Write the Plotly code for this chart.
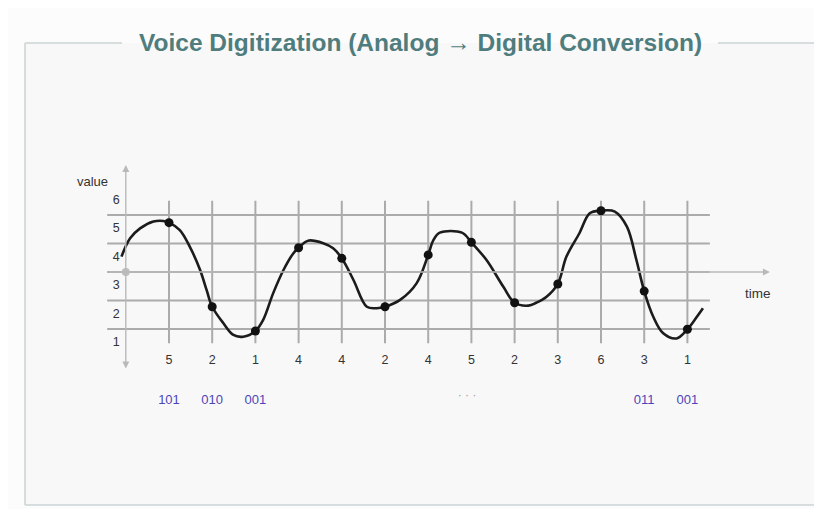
import plotly.graph_objects as go

# ---- data ----
curve_x = [-0.1, 0.1, 0.33, 0.64, 0.87, 1.0, 1.25, 1.48, 1.72, 1.87, 2.0, 2.26, 2.49, 2.72,
           3.0, 3.18, 3.41, 3.65, 3.88, 4.0, 4.22, 4.57, 4.8, 5.0, 5.27, 5.58, 5.81, 6.0,
           6.35, 6.73, 7.0, 7.12, 7.27, 7.78, 8.0, 8.35, 8.74, 9.0, 9.32, 9.5, 9.74, 10.0,
           10.2, 10.5, 10.74, 11.0, 11.32, 11.6, 11.82, 12.0, 12.21, 12.44, 12.75, 13.0,
           13.22, 13.36]
curve_v = [4.04, 4.68, 5.03, 5.27, 5.29, 5.23, 4.97, 4.39, 3.57, 2.87, 2.28, 1.70, 1.29, 1.23,
           1.43, 1.82, 2.75, 3.57, 4.16, 4.35, 4.60, 4.51, 4.33, 3.98, 3.22, 2.28, 2.23, 2.28,
           2.52, 3.10, 4.10, 4.62, 4.88, 4.88, 4.54, 3.92, 2.98, 2.42, 2.32, 2.42, 2.63, 3.08,
           4.04, 4.86, 5.56, 5.65, 5.62, 5.09, 3.92, 2.83, 1.93, 1.35, 1.17, 1.49,
           1.93, 2.23]

sample_x = [1, 2, 3, 4, 5, 6, 7, 8, 9, 10, 11, 12, 13]
sample_v = [5.23, 2.28, 1.43, 4.35, 3.98, 2.28, 4.10, 4.54, 2.42, 3.08, 5.65, 2.83, 1.49]
sample_labels = ["5", "2", "1", "4", "4", "2", "4", "5", "2", "3", "6", "3", "1"]

code_x = [1, 2, 3, 12, 13]
code_labels = ["101", "010", "001", "011", "001"]
ellipsis_x = 7.9

y_tick_vals = [1, 2, 3, 4, 5, 6]
y_tick_text = ["1", "2", "3", "4", "5", "6"]
grid_levels = [1.5, 2.5, 3.5, 4.5, 5.5]
time_axis_level = 3.5

title_text = "Voice Digitization (Analog \u2192 Digital Conversion)"

# ---- figure (page has an 8px body margin, so the figure is 8px smaller) ----
OFF = 8
W, H = 822 - OFF, 509 - OFF
FONT = "Liberation Sans, Arial, sans-serif"
GRID = "#ababab"
AXIS = "#b9b9b9"


def px(xp):
    return (xp - OFF) / W


def py(yp):
    return 1 - (yp - OFF) / H


fig = go.Figure()

# frame background and lines (paper coords)
fl, fr, ft, fb = px(25), px(817), py(43), py(505)
gap_l, gap_r = px(122), px(718)
fig.add_shape(type="rect", xref="paper", yref="paper", x0=fl, x1=fr, y0=fb, y1=ft,
              fillcolor="#f8f8f9", line=dict(width=0), layer="below")
frame_col = "#cdd4d4"
for (x0, y0, x1, y1) in [(fl, ft, gap_l, ft), (gap_r, ft, fr, ft), (fl, ft, fl, fb),
                         (fr, ft, fr, fb), (fl, fb, fr, fb)]:
    fig.add_shape(type="line", xref="paper", yref="paper", x0=x0, y0=y0, x1=x1, y1=y1,
                  line=dict(color=frame_col, width=1.6), layer="below")

# grid lines
grid_x0, grid_x1 = -0.43, 13.52
for lv in grid_levels:
    fig.add_shape(type="line", x0=grid_x0, x1=grid_x1, y0=lv, y1=lv,
                  line=dict(color=GRID, width=2), layer="below")
for sx in sample_x:
    fig.add_shape(type="line", x0=sx, x1=sx, y0=min(y_tick_vals), y1=max(y_tick_vals),
                  line=dict(color=GRID, width=2), layer="below")

# axes with arrows
fig.add_annotation(x=14.91, y=time_axis_level, ax=grid_x0, ay=time_axis_level,
                   xref="x", yref="y", axref="x", ayref="y", text="", showarrow=True,
                   arrowhead=2, arrowsize=1, arrowwidth=1.4, arrowcolor=AXIS)
fig.add_annotation(x=0, y=7.25, ax=0, ay=0.06, xref="x", yref="y", axref="x", ayref="y",
                   text="", showarrow=True, arrowhead=2, arrowside="end+start",
                   arrowsize=1, arrowwidth=1.4, arrowcolor=AXIS)

# origin dot
fig.add_trace(go.Scatter(x=[0], y=[time_axis_level], mode="markers",
                         marker=dict(color="#bdbdbd", size=8), hoverinfo="skip",
                         showlegend=False))

# analog curve
fig.add_trace(go.Scatter(x=curve_x, y=curve_v, mode="lines",
                         line=dict(color="#1c1c1c", width=2.6, shape="spline", smoothing=1),
                         showlegend=False, hoverinfo="skip"))

# sample points
fig.add_trace(go.Scatter(x=sample_x, y=sample_v, mode="markers",
                         marker=dict(color="#111111", size=9), showlegend=False))

# y tick labels
fig.add_trace(go.Scatter(x=[-0.22] * len(y_tick_vals), y=y_tick_vals, mode="text",
                         text=y_tick_text, textfont=dict(family=FONT, size=12.5, color="#333333"),
                         showlegend=False, hoverinfo="skip"))

# quantized sample labels
fig.add_trace(go.Scatter(x=sample_x, y=[0.38] * len(sample_x), mode="text",
                         text=sample_labels,
                         textfont=dict(family=FONT, size=12.5, color="#333333"),
                         showlegend=False, hoverinfo="skip"))

# binary codes
fig.add_trace(go.Scatter(x=code_x, y=[-1.02] * len(code_x), mode="text",
                         text=code_labels,
                         textfont=dict(family=FONT, size=13, color="#4b46b8"),
                         showlegend=False, hoverinfo="skip"))
fig.add_trace(go.Scatter(x=[ellipsis_x], y=[-0.86], mode="text", text=["\u00b7 \u00b7 \u00b7"],
                         textfont=dict(family=FONT, size=12, color="#a0a0a0"),
                         showlegend=False, hoverinfo="skip"))

# axis names
fig.add_annotation(x=-0.76, y=6.66, xref="x", yref="y", text="value", showarrow=False,
                   font=dict(family=FONT, size=13, color="#333333"))
fig.add_annotation(x=14.63, y=2.76, xref="x", yref="y", text="time", showarrow=False,
                   font=dict(family=FONT, size=13.5, color="#333333"))

# title
fig.add_annotation(x=px(420), y=ft, xref="paper", yref="paper",
                   text="<b>" + title_text + "</b>",
                   showarrow=False, xanchor="center", yanchor="middle",
                   font=dict(family=FONT, size=24.5, color="#4f7d7d"))

# axis ranges chosen so that data units map to the reference pixel grid
x_lo = (OFF - 125.8) / 43.2
x_hi = (822 - 125.8) / 43.2
y_hi = 1 + (343.25 - OFF) / 28.5
y_lo = 1 - (509 - 343.25) / 28.5

fig.update_layout(
    width=W, height=H,
    margin=dict(l=0, r=0, t=0, b=0),
    paper_bgcolor="#fcfcfc", plot_bgcolor="rgba(0,0,0,0)",
    xaxis=dict(range=[x_lo, x_hi], visible=False, fixedrange=True),
    yaxis=dict(range=[y_lo, y_hi], visible=False, fixedrange=True),
    showlegend=False,
)

fig.write_html("out.html")
